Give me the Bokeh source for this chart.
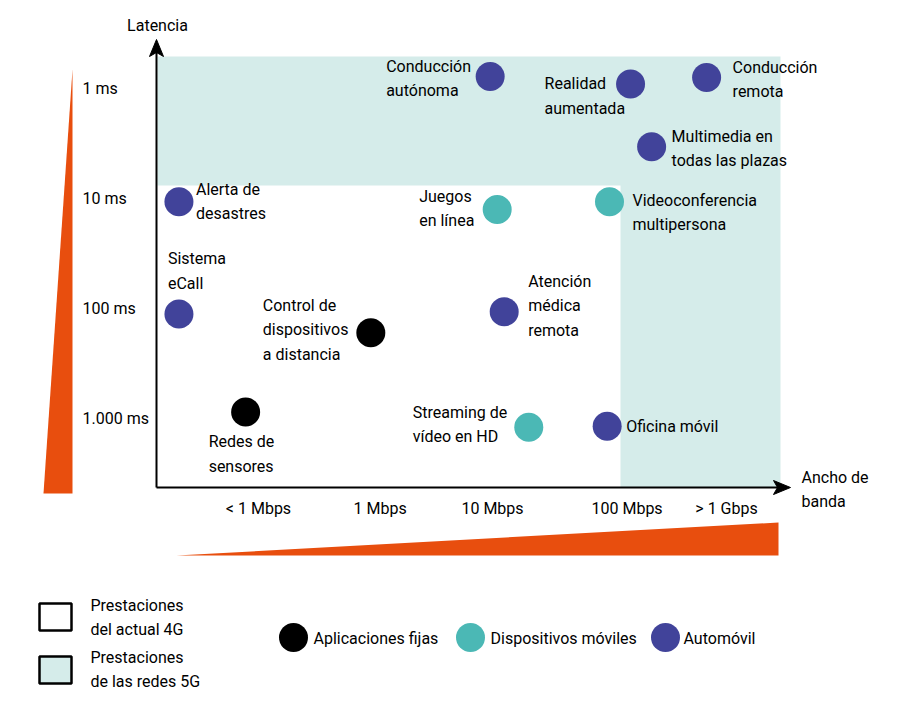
from bokeh.plotting import figure
from bokeh.models import Range1d, ColumnDataSource
from bokeh.core.properties import value
from bokeh.embed import file_html
from bokeh.resources import INLINE

# ---------------- data ----------------
x_tick_labels = ["< 1 Mbps", "1 Mbps", "10 Mbps", "100 Mbps", "> 1 Gbps"]
x_tick_pos = [0.0, 1.04, 2.0, 3.15, 4.0]          # band index
y_tick_labels = ["1 ms", "10 ms", "100 ms", "1.000 ms"]
y_tick_pos = [0, 1, 2, 3]                         # log10(latency ms)

categories = ["Aplicaciones fijas", "Dispositivos móviles", "Automóvil"]
cat_colors = ["#000000", "#4bb8b5", "#41439a"]

names = ["Conducción\nautónoma", "Realidad\naumentada", "Conducción\nremota",
         "Multimedia en\ntodas las plazas", "Alerta de\ndesastres", "Juegos\nen línea",
         "Videoconferencia\nmultipersona", "Sistema\neCall", "Control de\ndispositivos\na distancia",
         "Atención\nmédica\nremota", "Redes de\nsensores", "Streaming de\nvídeo en HD", "Oficina móvil"]
bandwidth = [1.98, 3.18, 3.83, 3.36, -0.68, 2.04, 3.00, -0.68, 0.96, 2.10, -0.11, 2.31, 2.98]
latency = [-0.11, -0.04, -0.10, 0.53, 1.03, 1.10, 1.03, 2.05, 2.22, 2.03, 2.94, 3.08, 3.07]
category = [2, 2, 2, 2, 2, 1, 1, 2, 0, 2, 0, 1, 2]

# label placement (screen px offsets from the point)
lab_dx = [-104, -86, 26, 20, 17, -78, 23, -11, -108, 24, -37, -116, 19]
lab_dy = [2, 12, 2, 2, 0, -1, 11, -43, -3, -6, 42, -3, 0]

# ---------------- layout helpers (page px -> data) ----------------
X0, XS, Y0, YS = 258.0, 117.0, 88.0, 110.0
def px(x):
    return (x - X0) / XS
def py(y):
    return (y - Y0) / YS

W, H = 896, 700
FONT = value("Roboto")
FS = "16px"
LH = 1.28
ORANGE = "#e84e0e"
SHADE = "#d5ecea"

p = figure(width=W, height=H, output_backend="svg", toolbar_location=None,
           x_range=Range1d(px(0), px(W)), y_range=Range1d(py(H), py(0)),
           min_border=0, background_fill_color="white", border_fill_color="white")
p.axis.visible = False
p.grid.visible = False
p.outline_line_color = None

# 5G region
p.patch([px(157), px(780), px(780), px(620), px(620), px(157)],
        [py(56), py(56), py(487), py(487), py(185), py(185)],
        fill_color=SHADE, line_color=None)

# axes with arrows
p.segment(x0=[px(156), px(156)], y0=[py(487), py(487)], x1=[px(156), px(778)], y1=[py(48), py(487)],
          line_color="black", line_width=2)
p.patch([px(156), px(163), px(156), px(149)], [py(39), py(56), py(52), py(56)], fill_color="black", line_color="black")
p.patch([px(790), px(773), px(777), px(773)], [py(487), py(480), py(487), py(494)], fill_color="black", line_color="black")

# orange wedges
p.patch([px(72), px(72), px(43)], [py(69), py(493), py(493)], fill_color=ORANGE, line_color=None)
p.patch([px(176), px(778), px(778)], [py(555), py(522), py(555)], fill_color=ORANGE, line_color=None)

# axis titles
p.text(x=[px(157)], y=[py(25)], text=["Latencia"], text_font=FONT, text_font_size=FS,
       text_align="center", text_baseline="middle", text_color="black")
p.text(x=[px(801)], y=[py(489)], text=["Ancho de\nbanda"], text_font=FONT, text_font_size=FS,
       text_align="left", text_baseline="middle", text_color="black", text_line_height=LH)

# tick labels
p.text(x=x_tick_pos, y=[py(508)] * len(x_tick_pos), text=x_tick_labels, text_font=FONT,
       text_font_size=FS, text_align="center", text_baseline="middle", text_color="black")
p.text(x=[px(82)] * len(y_tick_pos), y=y_tick_pos, text=y_tick_labels, text_font=FONT,
       text_font_size=FS, text_align="left", text_baseline="middle", text_color="black")

# points
src = ColumnDataSource(dict(x=bandwidth, y=latency, name=names,
                            color=[cat_colors[c] for c in category],
                            dx=lab_dx, dy=lab_dy))
p.scatter("x", "y", source=src, size=29, fill_color="color", line_color=None)
p.text("x", "y", text="name", source=src, x_offset="dx", y_offset="dy", text_align="left",
       text_baseline="middle", text_font=FONT, text_font_size=FS, text_color="black",
       text_line_height=LH)

# legend: areas
p.quad(left=[px(39), px(39)], right=[px(71), px(71)], top=[py(603), py(656)], bottom=[py(630), py(683)],
       fill_color=["white", SHADE], line_color="black", line_width=2.5)
p.text(x=[px(90), px(90)], y=[py(617), py(669)],
       text=["Prestaciones\ndel actual 4G", "Prestaciones\nde las redes 5G"],
       text_font=FONT, text_font_size=FS, text_align="left", text_baseline="middle",
       text_color="black", text_line_height=LH)

# legend: categories
leg_x = [px(293), px(470), px(665)]
p.scatter(leg_x, [py(637)] * 3, size=29, fill_color=cat_colors, line_color=None)
p.text(x=[px(313), px(490), px(683)], y=[py(638)] * 3, text=categories, text_font=FONT,
       text_font_size=FS, text_align="left", text_baseline="middle", text_color="black")

open("out.html", "w").write(file_html(p, INLINE))
